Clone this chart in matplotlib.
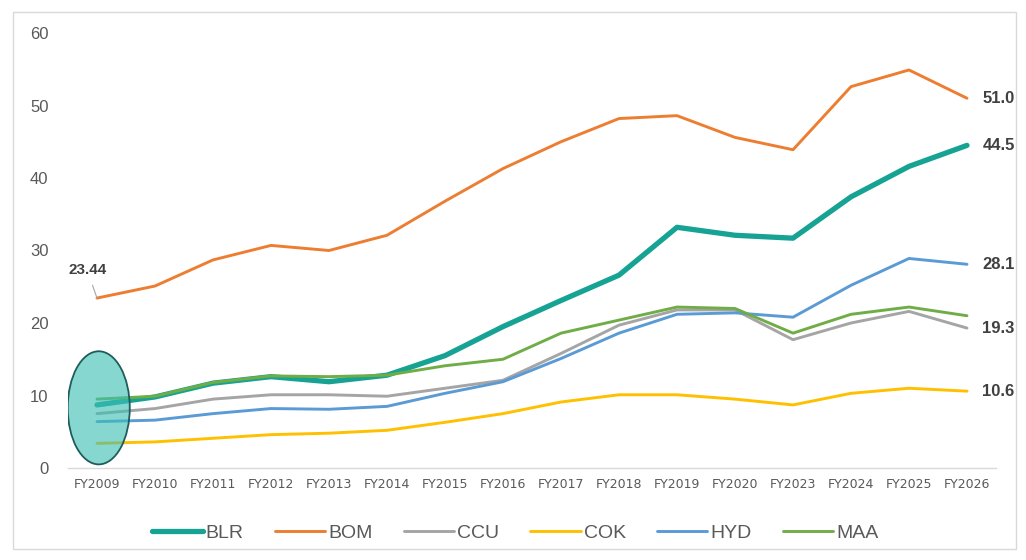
import matplotlib
matplotlib.use('Agg')
import matplotlib.pyplot as plt
from matplotlib.patches import Ellipse, Rectangle

plt.rcParams['font.family'] = ['Liberation Sans', 'DejaVu Sans']

years = ['FY2009', 'FY2010', 'FY2011', 'FY2012', 'FY2013', 'FY2014', 'FY2015',
         'FY2016', 'FY2017', 'FY2018', 'FY2019', 'FY2020', 'FY2023', 'FY2024',
         'FY2025', 'FY2026']

blr = [8.7, 9.8, 11.7, 12.6, 11.9, 12.8, 15.5, 19.5, 23.1, 26.6, 33.2, 32.1, 31.7, 37.4, 41.6, 44.5]
bom = [23.44, 25.1, 28.7, 30.7, 30.0, 32.1, 36.8, 41.3, 45.0, 48.2, 48.6, 45.6, 43.9, 52.6, 54.9, 51.0]
ccu = [7.5, 8.2, 9.5, 10.1, 10.1, 9.9, 11.0, 12.1, 15.8, 19.7, 21.8, 21.8, 17.7, 20.0, 21.6, 19.3]
cok = [3.4, 3.6, 4.1, 4.6, 4.8, 5.2, 6.3, 7.5, 9.1, 10.1, 10.1, 9.5, 8.7, 10.3, 11.0, 10.6]
hyd = [6.4, 6.6, 7.5, 8.2, 8.1, 8.5, 10.3, 11.9, 15.1, 18.6, 21.2, 21.4, 20.8, 25.2, 28.9, 28.1]
maa = [9.5, 9.9, 11.8, 12.7, 12.6, 12.8, 14.1, 15.0, 18.6, 20.4, 22.2, 22.0, 18.6, 21.2, 22.2, 21.0]

series = [('BLR', blr, '#16a394', 3.8),
          ('BOM', bom, '#ed7d31', 2.1),
          ('CCU', ccu, '#a5a5a5', 2.1),
          ('COK', cok, '#ffc000', 2.1),
          ('HYD', hyd, '#5b9bd5', 2.1),
          ('MAA', maa, '#70ad47', 2.1)]
end_labelled = ['BLR', 'BOM', 'CCU', 'COK', 'HYD']

fig = plt.figure(figsize=(10.26, 5.6), dpi=100)
fig.patches.append(Rectangle((13/1026, 1 - 549/560), 1003/1026, 537/560,
                             transform=fig.transFigure, fill=False,
                             edgecolor='#d9d9d9', lw=1.0, zorder=-1))
ax = fig.add_axes([68/1026, 1 - 468/560, 928/1026, 435/560])

x = list(range(len(years)))
for name, vals, col, lw in series:
    ax.plot(x, vals, color=col, lw=lw, label=name, solid_capstyle='round', zorder=3)
    if name in end_labelled:
        ax.annotate(f'{vals[-1]:.1f}', (x[-1], vals[-1]), xytext=(11, 0),
                    textcoords='offset points', va='center', ha='left',
                    fontsize=12, fontweight='bold', color='#404040')

# first BOM value label with leader line
ax.annotate('23.44', (0, bom[0]), xytext=(-7, 20), textcoords='offset points',
            ha='center', va='center', fontsize=11, fontweight='bold',
            color='#404040',
            arrowprops=dict(arrowstyle='-', color='#a6a6a6', lw=0.8,
                            shrinkA=4, shrinkB=0))

# highlight ellipse around FY2009 start
ax.add_patch(Ellipse((0.03, 8.3), 1.07, 15.6, facecolor=(0.24, 0.75, 0.71, 0.62),
                     edgecolor='#1f5d5d', lw=1.3, zorder=4))

ax.set_xlim(-0.5, 15.5)
ax.set_ylim(0, 60)
ax.set_yticks(range(0, 61, 10))
ax.set_xticks(x)
ax.set_xticklabels(years, fontsize=9, color='#595959', family='DejaVu Sans')
ax.tick_params(axis='y', length=0, pad=14, labelsize=12, labelcolor='#595959')
ax.tick_params(axis='x', length=0, pad=7)
for s in ['top', 'right', 'left']:
    ax.spines[s].set_visible(False)
ax.spines['bottom'].set_color('#d9d9d9')
ax.spines['bottom'].set_linewidth(1.0)

ax.legend(loc='upper center', bbox_to_anchor=(0.482, -0.09), ncol=6,
          frameon=False, fontsize=14, handlelength=2.6, handletextpad=0.15,
          columnspacing=1.6, labelcolor='#595959')

fig.savefig('out.png', dpi=100)
